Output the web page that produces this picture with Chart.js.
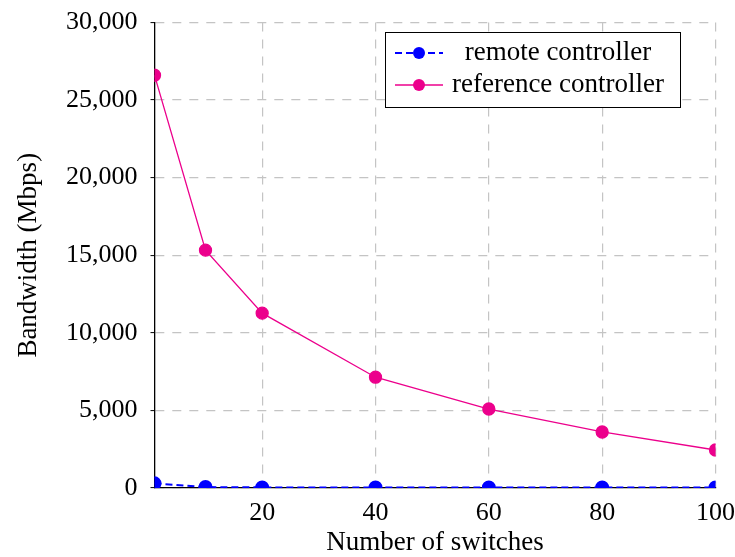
<!DOCTYPE html>
<html>
<head>
<meta charset="utf-8">
<script src="https://cdn.jsdelivr.net/npm/chart.js@4"></script>
<style>
  html, body { margin: 0; padding: 0; background: #fff; }
  #wrap { width: 735px; height: 557px; position: relative; }
</style>
</head>
<body>
<div id="wrap"><canvas id="bwChart"></canvas></div>
<script>
// data
const switches = [1, 10, 20, 40, 60, 80, 100];
const remoteBw = [300, 60, 40, 40, 40, 40, 40];
const referenceBw = [26600, 15330, 11270, 7140, 5090, 3610, 2450];
const xTicks = [20, 40, 60, 80, 100];
const yTicks = [0, 5000, 10000, 15000, 20000, 25000, 30000];

const seriesNames = ["remote controller", "reference controller"];
const BLUE = "#0000ff";
const PINK = "#ec008c";
const GRID = "#c4c4c4";
const FONT = "'Liberation Serif', 'Times New Roman', serif";

// legend drawn as a framed box in the top right of the plot
const boxLegend = {
    id: "boxLegend",
    afterDraw(chart) {
        const ctx = chart.ctx;
        const area = chart.chartArea;
        const w = 295, h = 75;
        const x0 = Math.round(area.right - 35.5 - w);
        const y0 = Math.round(area.top + 9.5);
        ctx.save();
        ctx.fillStyle = "#fff";
        ctx.fillRect(x0, y0, w, h);
        ctx.strokeStyle = "#000";
        ctx.lineWidth = 1;
        ctx.strokeRect(x0 + 0.5, y0 + 0.5, w, h);

        chart.data.datasets.forEach((ds, i) => {
            const cy = y0 + 21 + i * 32;
            ctx.strokeStyle = ds.borderColor;
            ctx.lineWidth = ds.borderWidth;
            ctx.setLineDash(ds.borderDash || []);
            ctx.beginPath();
            ctx.moveTo(x0 + 10, cy);
            ctx.lineTo(x0 + 58, cy);
            ctx.stroke();
            ctx.setLineDash([]);
            ctx.fillStyle = ds.pointBackgroundColor;
            ctx.beginPath();
            ctx.arc(x0 + 34, cy, 6, 0, Math.PI * 2);
            ctx.fill();

            ctx.fillStyle = "#000";
            ctx.font = "27px " + FONT;
            ctx.textAlign = "center";
            ctx.textBaseline = "middle";
            ctx.fillText(ds.label, x0 + 173, cy);
        });
        ctx.restore();
    }
};

const ctx = document.getElementById("bwChart").getContext("2d");
new Chart(ctx, {
    type: "line",
    data: {
        datasets: [{
            label: seriesNames[0],
            data: switches.map((s, i) => ({ x: s, y: remoteBw[i] })),
            borderColor: BLUE,
            backgroundColor: BLUE,
            pointBackgroundColor: BLUE,
            pointBorderColor: BLUE,
            borderWidth: 2,
            borderDash: [7, 4],
            pointRadius: 6,
            tension: 0,
        }, {
            label: seriesNames[1],
            data: switches.map((s, i) => ({ x: s, y: referenceBw[i] })),
            borderColor: PINK,
            backgroundColor: PINK,
            pointBackgroundColor: PINK,
            pointBorderColor: PINK,
            borderWidth: 1.3,
            pointRadius: 6,
            tension: 0,
        }],
    },
    options: {
        responsive: true,
        maintainAspectRatio: false,
        animation: false,
        devicePixelRatio: 1,
        layout: { padding: { left: 0, right: 19.5, top: 22.5, bottom: 0 } },
        plugins: { legend: { display: false }, tooltip: { enabled: false } },
        scales: {
            x: {
                type: "linear",
                min: 1,
                max: 100,
                afterBuildTicks: (scale) => { scale.ticks = xTicks.map(v => ({ value: v })); },
                afterFit: (scale) => { scale.height = 69; scale.paddingRight = 0; scale.paddingLeft = 0; },
                grid: { color: GRID, lineWidth: 1.2, drawTicks: false },
                border: { display: true, color: "#000", width: 1.3, dash: [9, 8] },
                ticks: { color: "#000", font: { family: FONT, size: 26 }, padding: 10, maxRotation: 0 },
                title: {
                    display: true,
                    text: "Number of switches",
                    color: "#000",
                    font: { family: FONT, size: 27, lineHeight: 1.05 },
                    padding: { top: 0, bottom: 0 },
                },
            },
            y: {
                type: "linear",
                min: 0,
                max: 30000,
                afterBuildTicks: (scale) => { scale.ticks = yTicks.map(v => ({ value: v })); },
                afterFit: (scale) => { scale.width = 154.5; scale.paddingTop = 0; scale.paddingBottom = 0; },
                grid: {
                    color: GRID, lineWidth: 1.2,
                    tickColor: "#000", tickLength: 4, tickWidth: 1, tickBorderDash: [],
                },
                border: { display: true, color: "#000", width: 1.3, dash: [9, 8] },
                ticks: {
                    color: "#000",
                    font: { family: FONT, size: 26 },
                    padding: 13,
                    callback: (v) => v.toLocaleString("en-US"),
                },
                title: {
                    display: true,
                    text: "Bandwidth (Mbps)",
                    color: "#000",
                    font: { family: FONT, size: 27 },
                    padding: { top: 13, bottom: 0 },
                },
            },
        },
    },
    plugins: [boxLegend],
});
</script>
</body>
</html>
